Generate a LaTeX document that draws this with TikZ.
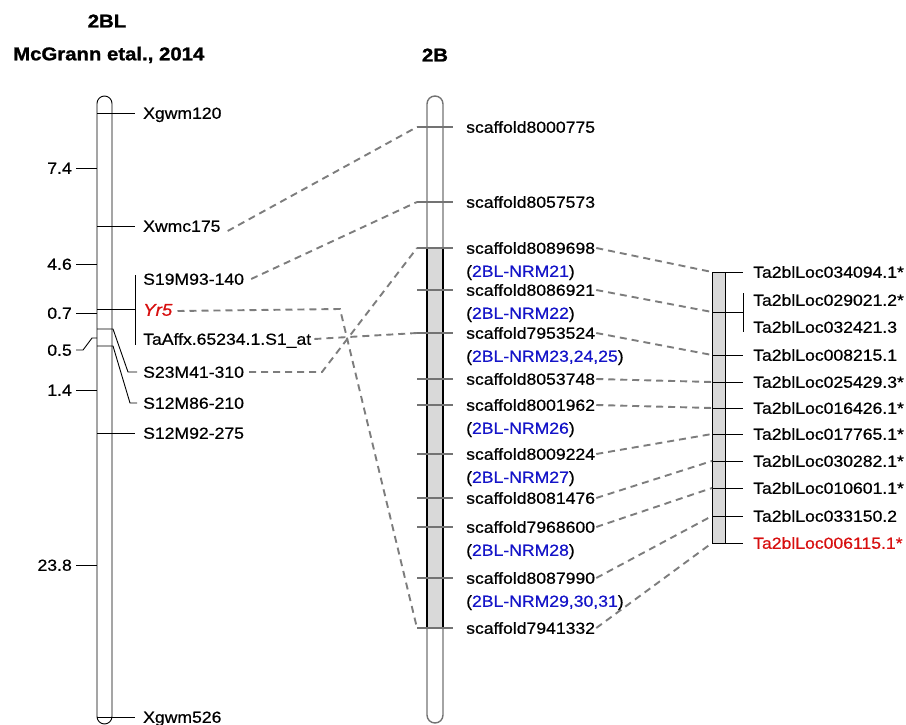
\documentclass[tikz,border=0pt]{standalone}
\usepackage{fontspec}
\setmainfont[FakeStretch=1.1,FakeBold=0.6]{Liberation Sans}
\newfontfamily\ttlfont[FakeStretch=1.1,FakeBold=1.2]{Liberation Sans Bold}
\definecolor{dashgray}{RGB}{125,125,125}
\definecolor{tickgray}{RGB}{115,115,115}
\definecolor{shade}{RGB}{217,217,217}
\definecolor{nrmblue}{RGB}{20,20,200}
\definecolor{locred}{RGB}{215,15,15}
\tikzset{
  lbl/.style={anchor=west,inner sep=1pt,font=\fontsize{16}{18}\selectfont,text height=11.5pt,text depth=0pt},
  num/.style={anchor=east,inner sep=1pt,font=\fontsize{16}{18}\selectfont,text height=11.5pt,text depth=0pt},
  ttl/.style={inner sep=0pt,font=\ttlfont\fontsize{18.5}{20}\selectfont},
  link/.style={draw=dashgray,line width=1.9pt,dash pattern=on 7pt off 5pt},
  thin/.style={draw=black,line width=0.9pt},
  stick/.style={draw=tickgray,line width=2.8pt},
  nrm/.style={text=nrmblue}
}
\begin{document}
\begin{tikzpicture}[x=1pt,y=-1pt]
\useasboundingbox (0,0) rectangle (906,725);
% titles
\node[ttl] (t2bl) at (107,21) {2BL};
\node[ttl,anchor=west] (tmc) at (13,55) {McGrann etal., 2014};
\node[ttl] (t2b) at (435,55) {2B};

% ---------- left chromosome ----------
\draw[thin] (97,103.5) arc[start angle=180,end angle=360,radius=7.5] -- (112,716.5) arc[start angle=0,end angle=180,radius=7.5] -- cycle;
% marker lines
\foreach \yy/\nm in {113/a,226/b,309/c,433/d,717/e}{
  \coordinate (L\nm) at (97,\yy); \coordinate (R\nm) at (135,\yy);
  \draw[thin] (L\nm) -- (R\nm);
}
\coordinate (bt) at (135,275); \coordinate (bb) at (135,345);
\draw[thin] (bt) -- (bb);
\coordinate (m1a) at (97,329); \coordinate (m1b) at (113,329); \coordinate (m1c) at (128,372); \coordinate (m1d) at (137,372);
\draw[thin] (m1a) -- (m1b) -- (m1c) -- (m1d);
\coordinate (m2a) at (97,346); \coordinate (m2b) at (113,346); \coordinate (m2c) at (130,403); \coordinate (m2d) at (137,403);
\draw[thin] (m2a) -- (m2b) -- (m2c) -- (m2d);
% scale
\foreach \yy/\tx/\nm in {168/7.4/s1,264/4.6/s2,313/0.7/s3,390/1.4/s4,565/23.8/s5}{
  \node[num] (\nm) at (73,\yy) {\tx};
  \coordinate (\nm r) at (97,\yy);
  \draw[thin] (76,\yy) -- (\nm r);
}
\node[num] (s6) at (73,350) {0.5};
\coordinate (s6a) at (76,350); \coordinate (s6b) at (83,350); \coordinate (s6c) at (92,338); \coordinate (s6d) at (97,338);
\draw[thin] (s6a) -- (s6b) -- (s6c) -- (s6d);
% left labels
\node[lbl] (xgwm120) at (142,113) {Xgwm120};
\node[lbl] (xwmc175) at (142,226) {Xwmc175};
\node[lbl] (s19) at (142,279) {S19M93-140};
\node[lbl,text=locred,font=\itshape\fontsize{17}{19}\selectfont] (yr5) at (142,310) {Yr5};
\node[lbl] (taaffx) at (142,339) {TaAffx.65234.1.S1\_at};
\node[lbl] (s23) at (142,372) {S23M41-310};
\node[lbl] (s12a) at (142,403) {S12M86-210};
\node[lbl] (s12b) at (142,433) {S12M92-275};
\node[lbl] (xgwm526) at (142,717) {Xgwm526};

% ---------- middle chromosome ----------
\draw[draw=tickgray,line width=1.4pt] (427,104) arc[start angle=180,end angle=360,radius=8] -- (443,715) arc[start angle=0,end angle=180,radius=8] -- cycle;
\draw[fill=shade,draw=black,line width=1.4pt] (427,248) rectangle (443,628);
\foreach \yy/\nm in {127/1,202/2,248/3,290/4,333/5,379/6,405/7,454/8,498/9,527/10,578/11,628/12}{
  \coordinate (cw\nm) at (417,\yy); \coordinate (ce\nm) at (453,\yy);
  \draw[stick] (cw\nm) -- (ce\nm);
}
\node[lbl] (sc1) at (465,127) {scaffold8000775};
\node[lbl] (sc2) at (465,202) {scaffold8057573};
\node[lbl] (sc3) at (465,248) {scaffold8089698};
\node[lbl] (n3) at (465,271) {(\textcolor{nrmblue}{2BL-NRM21})};
\node[lbl] (sc4) at (465,290) {scaffold8086921};
\node[lbl] (n4) at (465,313) {(\textcolor{nrmblue}{2BL-NRM22})};
\node[lbl] (sc5) at (465,333) {scaffold7953524};
\node[lbl] (n5) at (465,356) {(\textcolor{nrmblue}{2BL-NRM23,24,25})};
\node[lbl] (sc6) at (465,379) {scaffold8053748};
\node[lbl] (sc7) at (465,405) {scaffold8001962};
\node[lbl] (n7) at (465,428) {(\textcolor{nrmblue}{2BL-NRM26})};
\node[lbl] (sc8) at (465,454) {scaffold8009224};
\node[lbl] (n8) at (465,477) {(\textcolor{nrmblue}{2BL-NRM27})};
\node[lbl] (sc9) at (465,498) {scaffold8081476};
\node[lbl] (sc10) at (465,527) {scaffold7968600};
\node[lbl] (n10) at (465,550) {(\textcolor{nrmblue}{2BL-NRM28})};
\node[lbl] (sc11) at (465,578) {scaffold8087990};
\node[lbl] (n11) at (465,601) {(\textcolor{nrmblue}{2BL-NRM29,30,31})};
\node[lbl] (sc12) at (465,628) {scaffold7941332};

% ---------- right chromosome ----------
\draw[fill=shade,draw=black,line width=0.9pt] (712,272) rectangle (725,543);
\foreach \yy/\nm in {272/1,312/2,355/3,382/4,408/5,434/6,461/7,488/8,516/9,543/10}{
  \coordinate (rw\nm) at (712,\yy); \coordinate (re\nm) at (743,\yy);
  \draw[thin] (rw\nm) -- (re\nm);
}
\coordinate (rbt) at (743,293); \coordinate (rbb) at (743,332);
\draw[thin] (rbt) -- (rbb);
\node[lbl] (ta1) at (752,272) {Ta2blLoc034094.1*};
\node[lbl] (ta2) at (752,300) {Ta2blLoc029021.2*};
\node[lbl] (ta2b) at (752,327) {Ta2blLoc032421.3};
\node[lbl] (ta3) at (752,355) {Ta2blLoc008215.1};
\node[lbl] (ta4) at (752,382) {Ta2blLoc025429.3*};
\node[lbl] (ta5) at (752,408) {Ta2blLoc016426.1*};
\node[lbl] (ta6) at (752,434) {Ta2blLoc017765.1*};
\node[lbl] (ta7) at (752,461) {Ta2blLoc030282.1*};
\node[lbl] (ta8) at (752,488) {Ta2blLoc010601.1*};
\node[lbl] (ta9) at (752,516) {Ta2blLoc033150.2};
\node[lbl,text=locred] (ta10) at (752,543) {Ta2blLoc006115.1*};

% ---------- dashed links left -> middle ----------
\draw[link] ([xshift=6pt,yshift=-5pt]xwmc175.east) -- (cw1);
\draw[link] ([xshift=6pt]s19.east) -- (cw2);
\draw[link] ([xshift=2pt]taaffx.east) -- (cw5);
\coordinate (s23k) at (322,372);
\draw[link] ([xshift=4pt]s23.east) -- (s23k) -- (cw3);
\coordinate (yr5k) at (340,309);
\draw[link] ([xshift=4pt,yshift=-1pt]yr5.east) -- (yr5k) -- (cw12);

% ---------- dashed links middle -> right ----------
\foreach \a/\b in {3/1,4/2,5/3,6/4,7/5,8/6,9/7,10/8,11/9,12/10}{
  \draw[link] (sc\a.east) -- (rw\b);
}
\end{tikzpicture}
\end{document}
